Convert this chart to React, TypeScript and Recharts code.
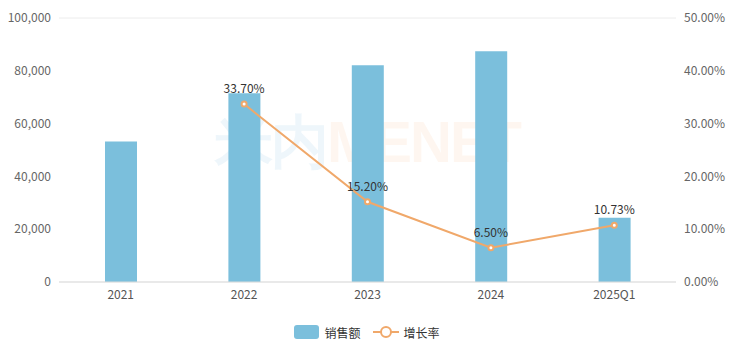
import { ComposedChart, Bar, Line, XAxis, YAxis, CartesianGrid, Legend, LabelList } from "recharts";

const categories = ["2021", "2022", "2023", "2024", "2025Q1"];
const sales = [53200, 71500, 82100, 87400, 24300];
const growth: (number | null)[] = [null, 33.7, 15.2, 6.5, 10.73];
const leftTicks = [0, 20000, 40000, 60000, 80000, 100000];
const rightTicks = [0, 10, 20, 30, 40, 50];

const BAR = "#7bbfdc";
const LINE = "#f0a86a";
const FONT = "'Noto Sans CJK SC', 'Noto Sans', sans-serif";

const data = categories.map((c, i) => ({ name: c, sales: sales[i], growth: growth[i] }));

function LegendContent() {
  return (
    <div style={{ display: "flex", justifyContent: "center", alignItems: "center", fontSize: 12, color: "#333", fontFamily: FONT, height: 24 }}>
      <span style={{ display: "inline-block", width: 25, height: 14, background: BAR, borderRadius: 3, marginRight: 5 }} />
      <span style={{ marginRight: 12 }}>销售额</span>
      <svg width={26} height={14} style={{ marginRight: 5 }}>
        <line x1={0} y1={7} x2={26} y2={7} stroke={LINE} strokeWidth={2} />
        <circle cx={13} cy={7} r={5} fill="#fff" stroke={LINE} strokeWidth={2} />
      </svg>
      <span>增长率</span>
    </div>
  );
}

export default function App() {
  return (
    <div style={{ position: "absolute", left: 0, top: 0, width: 734, height: 354, fontFamily: FONT }}>
      <div style={{ position: "absolute", left: 215, top: 104, fontSize: 58, fontWeight: 700, letterSpacing: -2, pointerEvents: "none", fontFamily: "Arial, sans-serif" }}>
        <span style={{ color: "rgba(150,200,230,0.16)" }}>米内</span>
        <span style={{ color: "rgba(245,170,110,0.1)" }}>MENET</span>
      </div>
      <ComposedChart width={734} height={354} data={data} margin={{ top: 18, right: 0, left: 0, bottom: 10 }}>
        <CartesianGrid vertical={false} stroke="#ececec" />
        <XAxis dataKey="name" tick={{ fontSize: 12, fill: "#555" }} tickLine={false} axisLine={{ stroke: "#ddd" }} height={38} />
        <YAxis yAxisId="left" domain={[0, 100000]} ticks={leftTicks} width={59} tickFormatter={(v) => v.toLocaleString("en-US")} tick={{ fontSize: 12, fill: "#666" }} tickLine={false} axisLine={false} />
        <YAxis yAxisId="right" orientation="right" domain={[0, 50]} ticks={rightTicks} width={58} tickFormatter={(v) => v.toFixed(2) + "%"} tick={{ fontSize: 12, fill: "#666" }} tickLine={false} axisLine={false} />
        <Bar yAxisId="left" dataKey="sales" fill={BAR} barSize={32} isAnimationActive={false} />
        <Line yAxisId="right" dataKey="growth" stroke={LINE} strokeWidth={2} dot={{ r: 2.5, fill: "#fff", stroke: LINE, strokeWidth: 2 }} isAnimationActive={false}>
          <LabelList dataKey="growth" position="top" offset={11} formatter={(v: any) => (v == null ? "" : v.toFixed(2) + "%")} style={{ fontSize: 12, fill: "#333" }} />
        </Line>
        <Legend content={<LegendContent />} verticalAlign="bottom" height={24} />
      </ComposedChart>
    </div>
  );
}
